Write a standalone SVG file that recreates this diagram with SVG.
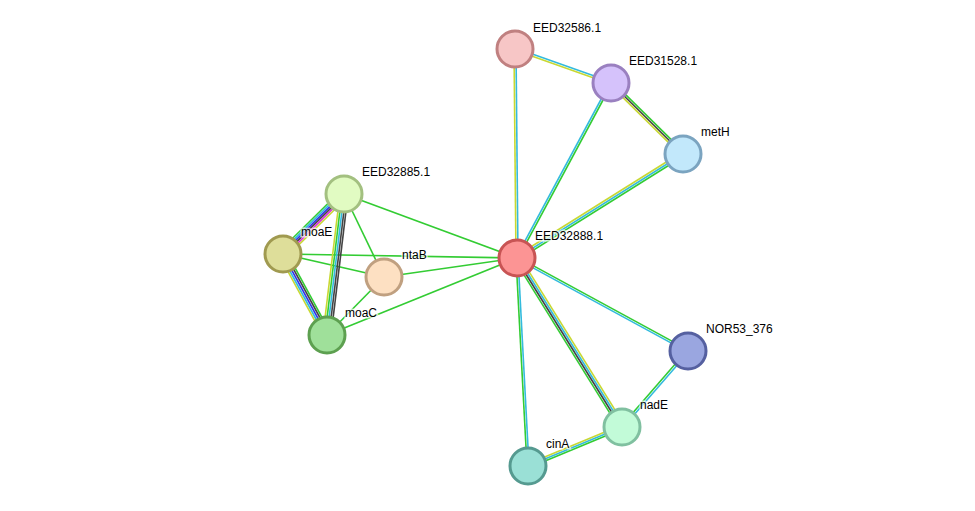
<svg xmlns="http://www.w3.org/2000/svg" width="975" height="511" viewBox="0 0 975 511">
<style>
line{stroke-width:1.6;fill:none}
.g{stroke:#33cc33}.c{stroke:#33bbdd}.y{stroke:#c8d832}.k{stroke:#444}.b{stroke:#3333ee}.m{stroke:#dd33dd}
circle{stroke-width:3}
text{font-family:"Liberation Sans",Arial,sans-serif;font-size:12px;fill:#000;stroke:#fff;stroke-width:3;stroke-opacity:0.7;paint-order:stroke}
</style>
<rect width="975" height="511" fill="#fff"/>
<g id="connectors">
<line class="c" x1="515.3" y1="48.1" x2="611.3" y2="82.1"/><line class="y" x1="514.7" y1="49.9" x2="610.7" y2="83.9"/>
<line class="c" x1="516" y1="49" x2="518" y2="258"/><line class="y" x1="514" y1="49" x2="516" y2="258"/>
<line class="g" x1="611.9" y1="83.5" x2="517.9" y2="258.5"/><line class="c" x1="610.1" y1="82.5" x2="516.1" y2="257.5"/>
<line class="g" x1="612.4" y1="81.6" x2="684.4" y2="152.6"/><line class="k" x1="611" y1="83" x2="683" y2="154"/><line class="y" x1="609.6" y1="84.4" x2="681.6" y2="155.4"/>
<line class="y" x1="681.9" y1="152.3" x2="515.9" y2="256.3"/><line class="c" x1="683" y1="154" x2="517" y2="258"/><line class="g" x1="684.1" y1="155.7" x2="518.1" y2="259.7"/>
<line class="g" x1="517.5" y1="257.1" x2="688.5" y2="350.1"/><line class="c" x1="516.5" y1="258.9" x2="687.5" y2="351.9"/>
<line class="y" x1="519.6" y1="256.4" x2="624.6" y2="425.4"/><line class="c" x1="517.9" y1="257.5" x2="622.9" y2="426.5"/><line class="k" x1="516.2" y1="258.5" x2="621.2" y2="427.5"/><line class="g" x1="514.5" y1="259.6" x2="619.5" y2="428.6"/>
<line class="g" x1="516" y1="258" x2="527" y2="466"/><line class="c" x1="518" y1="258" x2="529" y2="466"/>
<line class="g" x1="687.2" y1="350.3" x2="621.2" y2="426.3"/><line class="c" x1="688.8" y1="351.7" x2="622.8" y2="427.7"/>
<line class="y" x1="621.2" y1="425.2" x2="527.2" y2="464.2"/><line class="c" x1="622" y1="427" x2="528" y2="466"/><line class="g" x1="622.8" y1="428.8" x2="528.8" y2="467.8"/>
<line class="g" x1="517" y1="258" x2="344" y2="194"/>
<line class="g" x1="517" y1="258" x2="283" y2="254"/>
<line class="g" x1="517" y1="258" x2="384" y2="277"/>
<line class="g" x1="517" y1="258" x2="327" y2="335"/>
<line class="g" x1="344" y1="194" x2="384" y2="277"/>
<line class="g" x1="283" y1="254" x2="384" y2="277"/>
<line class="g" x1="384" y1="277" x2="327" y2="335"/>
<line class="g" x1="340.9" y1="190.8" x2="279.9" y2="250.8"/><line class="c" x1="342.1" y1="192.1" x2="281.1" y2="252.1"/><line class="b" x1="343.4" y1="193.4" x2="282.4" y2="253.4"/><line class="k" x1="344.6" y1="194.6" x2="283.6" y2="254.6"/><line class="m" x1="345.9" y1="195.9" x2="284.9" y2="255.9"/><line class="y" x1="347.2" y1="197.2" x2="286.2" y2="257.2"/>
<line class="y" x1="340" y1="193.5" x2="323" y2="334.5"/><line class="g" x1="342" y1="193.8" x2="325" y2="334.8"/><line class="c" x1="344" y1="194" x2="327" y2="335"/><line class="k" x1="346" y1="194.2" x2="329" y2="335.2"/><line class="k" x1="348" y1="194.5" x2="331" y2="335.5"/>
<line class="y" x1="279.5" y1="255.9" x2="323.5" y2="336.9"/><line class="c" x1="281.2" y1="255" x2="325.2" y2="336"/><line class="b" x1="283" y1="254" x2="327" y2="335"/><line class="k" x1="284.8" y1="253" x2="328.8" y2="334"/><line class="g" x1="286.5" y1="252.1" x2="330.5" y2="333.1"/>
</g>
<g id="n-EED32586.1"><circle cx="515" cy="49" r="18" fill="#f7c6c6" stroke="#c08080"/><text x="533" y="32">EED32586.1</text></g>
<g id="n-EED31528.1"><circle cx="611" cy="83" r="18" fill="#d5c2fb" stroke="#9a80c0"/><text x="629" y="65">EED31528.1</text></g>
<g id="n-metH"><circle cx="683" cy="154" r="18" fill="#c2e8fb" stroke="#7ba4c0"/><text x="701" y="136">metH</text></g>
<g id="n-EED32888.1"><circle cx="517" cy="258" r="18" fill="#fc9494" stroke="#c85454"/><text x="535" y="240">EED32888.1</text></g>
<g id="n-EED32885.1"><circle cx="344" cy="194" r="18" fill="#e1fbc2" stroke="#a3c080"/><text x="362" y="176">EED32885.1</text></g>
<g id="n-moaE"><circle cx="283" cy="254" r="18" fill="#dede9a" stroke="#a09a50"/><text x="301" y="236">moaE</text></g>
<g id="n-ntaB"><circle cx="384" cy="277" r="18" fill="#fde0c2" stroke="#c0a080"/><text x="402" y="259">ntaB</text></g>
<g id="n-moaC"><circle cx="327" cy="335" r="18" fill="#9fe09a" stroke="#5da050"/><text x="345" y="317">moaC</text></g>
<g id="n-NOR53_376"><circle cx="688" cy="351" r="18" fill="#9aa6e0" stroke="#5560a0"/><text x="706" y="333">NOR53_376</text></g>
<g id="n-nadE"><circle cx="622" cy="427" r="18" fill="#c2fbd8" stroke="#80c0a0"/><text x="640" y="409">nadE</text></g>
<g id="n-cinA"><circle cx="528" cy="466" r="18" fill="#9ae0d6" stroke="#559a90"/><text x="546" y="448">cinA</text></g>
</svg>
